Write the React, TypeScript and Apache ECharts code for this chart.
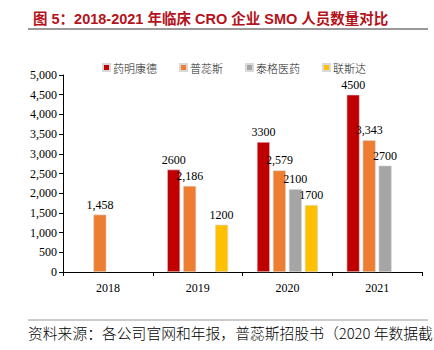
import React, { useEffect, useRef } from "react";
import * as echarts from "echarts";

const categories = ["2018", "2019", "2020", "2021"];
const seriesNames = ["药明康德", "普蕊斯", "泰格医药", "联斯达"];
const wuxi = [null, 2600, 3300, 4500];
const puruisi = [1458, 2186, 2579, 3343];
const tigermed = [null, null, 2100, 2700];
const liansida = [null, 1200, 1700, null];
const colors = ["#C00000", "#ED7D31", "#A5A5A5", "#FFC000"];
const useComma = [false, true, false, false];

const titleText = "图 5：2018-2021 年临床 CRO 企业 SMO 人员数量对比";
const sourceText = "资料来源：各公司官网和年报，普蕊斯招股书（2020 年数据截";

const serif = "'Liberation Serif', 'Noto Sans CJK SC', serif";

export default function App() {
  const ref = useRef<HTMLDivElement>(null);
  useEffect(() => {
    if (!ref.current) return;
    const chart = echarts.init(ref.current, null, { renderer: "svg" });
    const data = [wuxi, puruisi, tigermed, liansida];
    chart.setOption({
      animation: false,
      backgroundColor: "#fff",
      title: {
        text: titleText,
        left: 28,
        top: 7,
        textStyle: {
          color: "#B5121B",
          fontSize: 14.5,
          fontWeight: "bold",
          fontFamily: "'Liberation Sans', 'Noto Sans CJK SC', sans-serif",
        },
      },
      legend: {
        data: seriesNames,
        left: 97,
        top: 57,
        itemWidth: 7,
        itemHeight: 7,
        itemGap: 22,
        icon: "rect",
        textStyle: {
          fontSize: 11,
          color: "#222",
          fontWeight: 300,
          fontFamily: "'Noto Sans CJK SC', serif",
          padding: [0, 0, 0, -2],
        },
      },
      grid: { left: 63, right: 12, top: 75, bottom: 78, containLabel: false },
      xAxis: {
        type: "category",
        data: categories,
        axisLine: { lineStyle: { color: "#000", width: 1 } },
        axisTick: { show: true, length: 4, lineStyle: { color: "#000" } },
        axisLabel: { color: "#000", fontSize: 12, fontFamily: serif, margin: 10 },
      },
      yAxis: {
        type: "value",
        min: 0,
        max: 5000,
        interval: 500,
        splitLine: { show: false },
        axisLine: { show: true, lineStyle: { color: "#000", width: 1 } },
        axisTick: { show: true, length: 4, lineStyle: { color: "#000" } },
        axisLabel: {
          color: "#000",
          fontSize: 12,
          fontFamily: serif,
          margin: 6,
          formatter: (v: number) => v.toLocaleString("en-US"),
        },
      },
      graphic: [
        {
          type: "line",
          shape: { x1: 28, y1: 29, x2: 428, y2: 29 },
          style: { stroke: "#777", lineWidth: 1.5 },
        },
        {
          type: "line",
          shape: { x1: 28, y1: 320, x2: 428, y2: 320 },
          style: { stroke: "#999", lineWidth: 1 },
        },
        {
          type: "text",
          left: 28,
          top: 325,
          style: {
            text: sourceText,
            fontSize: 14.8,
            fill: "#000",
            fontWeight: 300,
            fontFamily: "'Noto Sans CJK SC', serif",
          },
        },
      ],
      series: seriesNames.map((name, i) => ({
        name,
        type: "bar",
        data: data[i],
        barWidth: 13,
        barGap: "23%",
        itemStyle: { color: colors[i], borderColor: "#D9D9D9", borderWidth: 0.6 },
        label: {
          show: true,
          position: "top",
          distance: 4,
          color: "#000",
          fontSize: 12,
          fontFamily: serif,
          formatter: (p: any) =>
            useComma[i] ? Number(p.value).toLocaleString("en-US") : String(p.value),
        },
      })),
    });
    return () => chart.dispose();
  }, []);
  return <div ref={ref} style={{ width: 434, height: 350, position: "absolute", left: 0, top: 0 }} />;
}
